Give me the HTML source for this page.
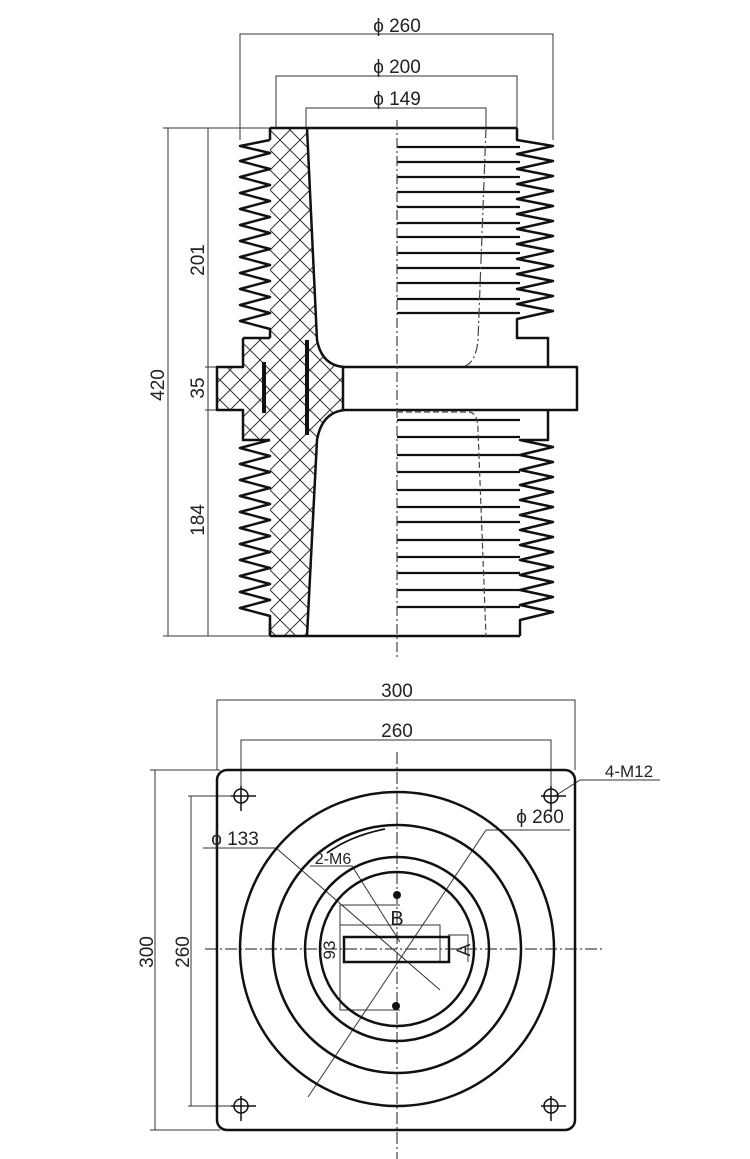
<!DOCTYPE html>
<html><head><meta charset="utf-8"><style>
html,body{margin:0;padding:0;background:#fff;}
svg{display:block}
text{font-family:"Liberation Sans",sans-serif;fill:#222;}
</style></head><body>
<svg width="750" height="1159" viewBox="0 0 750 1159" xmlns="http://www.w3.org/2000/svg">
<defs>
<pattern id="h" width="20" height="20" patternUnits="userSpaceOnUse">
<path d="M0,0 L20,20 M20,0 L0,20" stroke="#333" stroke-width="1" fill="none"/>
</pattern>
</defs>
<g stroke="#333" stroke-width="1" fill="none">
<path d="M240,140 V34 H553 V140"/>
<path d="M276,128 V76 H517 V128"/>
<path d="M306,128 V108 H486 V128"/>
<path d="M163,128 H300 M163,636 H300 M168,128 V636"/>
<path d="M205,128 H245 M205,367 H243 M205,410 H243 M205,636 H245 M208,128 V636"/>
</g>
<g font-size="19" text-anchor="middle">
<text x="397" y="32">ϕ 260</text>
<text x="397" y="73">ϕ 200</text>
<text x="397" y="105">ϕ 149</text>
<text transform="translate(164,385) rotate(-90)">420</text>
<text transform="translate(204,260) rotate(-90)">201</text>
<text transform="translate(204,388) rotate(-90)">35</text>
<text transform="translate(204,520) rotate(-90)">184</text>
</g>
<path fill="url(#h)" stroke="none" d="M270,128 H307 L317,340 Q322,366 343,367 V410 Q322,412 317,440 L307,636 H270 V440 H243 V410 H217 V367 H243 V338 H270 Z"/>
<g stroke="#111" stroke-width="2.5" fill="none" stroke-linejoin="round">
<path d="M270,128 H517 M270,636 H520"/>
<path d="M270,128 V140 M270,624 V636"/>
<path d="M270,140 l-30,6 l30,7 l-30,8 l30,8 l-30,8 l30,8 l-30,8 l30,8 l-30,8 l30,8 l-30,8 l30,8 l-30,8 l30,8 l-30,8 l30,8 l-30,8 l30,8 l-30,8 l30,8 l-30,8 l30,8 l-30,8 l30,8 V338"/>
<path d="M243,338 H270 M243,338 V367 H217 V410 H243 V440 H270"/>
<path d="M270,440 l-30,8 l30,8 l-30,8 l30,8 l-30,8 l30,8 l-30,8 l30,8 l-30,8 l30,8 l-30,8 l30,8 l-30,8 l30,8 l-30,8 l30,8 l-30,8 l30,8 l-30,8 l30,8 l-30,8 l30,8 V636"/>
<path d="M307,128 L317,340 Q322,366 345,367 H577 V410 H345 Q322,412 317,440 L307,636"/>
<path d="M343,367 V410"/>
<path d="M264,362 V413" stroke-width="4"/>
<path d="M307,340 V435" stroke-width="4"/>
<path d="M517,128 V140 l36,6 l-36,8 l36,7 l-36,8 l36,7 l-36,8 l36,7 l-36,8 l36,7 l-36,8 l36,7 l-36,8 l36,7 l-36,8 l36,7 l-36,8 l36,7 l-36,8 l36,7 l-36,8 l36,7 l-36,8 l36,7 l-36,8 V338 H548 V367"/>
<path d="M548,410 V440 H520 l33,7 l-33,8 l33,7 l-33,8 l33,7 l-33,8 l33,7 l-33,8 l33,7 l-33,8 l33,7 l-33,8 l33,7 l-33,8 l33,7 l-33,8 l33,7 l-33,8 l33,7 l-33,8 l33,7 l-33,8 l33,7 l-33,8 V636"/>
</g>
<g stroke="#111" stroke-width="2.2">
<path d="M397,147 H520 M397,162 H520 M397,177 H520 M397,192 H520 M397,207 H520 M397,223 H520 M397,237 H520 M397,253 H520 M397,268 H520 M397,283 H520 M397,299 H520 M397,313 H520"/>
<path d="M397,420 H520 M397,437 H520 M397,455 H520 M397,472 H520 M397,490 H520 M397,507 H520 M397,522 H520 M397,540 H520 M397,557 H520 M397,573 H520 M397,590 H520 M397,607 H520"/>
</g>
<g stroke="#444" stroke-width="1.2" fill="none" stroke-dasharray="10,3,2,3">
<path d="M397,120 V660"/>
<path d="M486,128 L478,340 Q476,362 465,366"/>
<path d="M397,412 H470 Q478,414 478,430 L486,636" stroke-dasharray="6,3"/>
</g>
<g stroke="#333" stroke-width="1" fill="none">
<path d="M217,770 V700 H575 V770"/>
<path d="M241,796 V740 H551 V796"/>
<path d="M150,770 H220 M150,1130 H220 M155,770 V1130"/>
<path d="M188,796 H255 M188,1106 H255 M191,796 V1106"/>
<path d="M203,848 H276 L440,990"/>
<path d="M486,830 H570 M486,830 L308,1097"/>
<path d="M555,796 L580,780 H660"/>
<path d="M310,866 H352 L400,942"/>
<path d="M340,905 V1010 M340,905 H400 M340,1010 H400"/>
<path d="M340,925 H440 V962 M448,935 H468 V962"/>
</g>
<g stroke="#444" stroke-width="1.2" fill="none" stroke-dasharray="12,3,2,3">
<path d="M397,752 V1159"/>
<path d="M205,949 H605"/>
</g>
<g stroke="#111" stroke-width="2.5" fill="none">
<rect x="217" y="770" width="358" height="360" rx="10"/>
<circle cx="397" cy="949" r="157"/>
<circle cx="397" cy="949" r="124"/>
<circle cx="397" cy="949" r="92"/>
<circle cx="397" cy="949" r="77"/>
<path d="M327,853 Q350,836 385,829" stroke-width="1.8"/>
<rect x="344" y="937" width="105" height="25"/>
</g>
<g stroke="#111" stroke-width="1.5" fill="none">
<circle cx="241" cy="796" r="7"/><circle cx="551" cy="796" r="7"/>
<circle cx="241" cy="1106" r="7"/><circle cx="551" cy="1106" r="7"/>
<path d="M231,796 H256 M241,786 V811 M541,796 H566 M551,786 V811 M231,1106 H256 M241,1096 V1121 M541,1106 H566 M551,1096 V1121"/>
</g>
<circle cx="397" cy="895" r="4" fill="#111"/>
<circle cx="396" cy="1006" r="4" fill="#111"/>
<g font-size="19" text-anchor="middle">
<text x="397" y="697">300</text>
<text x="397" y="737">260</text>
<text transform="translate(153,952) rotate(-90)">300</text>
<text transform="translate(189,952) rotate(-90)">260</text>
<text x="235" y="845">ϕ 133</text>
<text x="540" y="823">ϕ 260</text>
<text x="629" y="777" font-size="17">4-M12</text>
<text x="333" y="864" font-size="16">2-M6</text>
<text x="397" y="925" font-size="20">B</text>
<text transform="translate(335,950) rotate(-90)" font-size="17">93</text>
<text transform="translate(470,950) rotate(-90)" font-size="19">A</text>
</g>
</svg>
</body></html>
